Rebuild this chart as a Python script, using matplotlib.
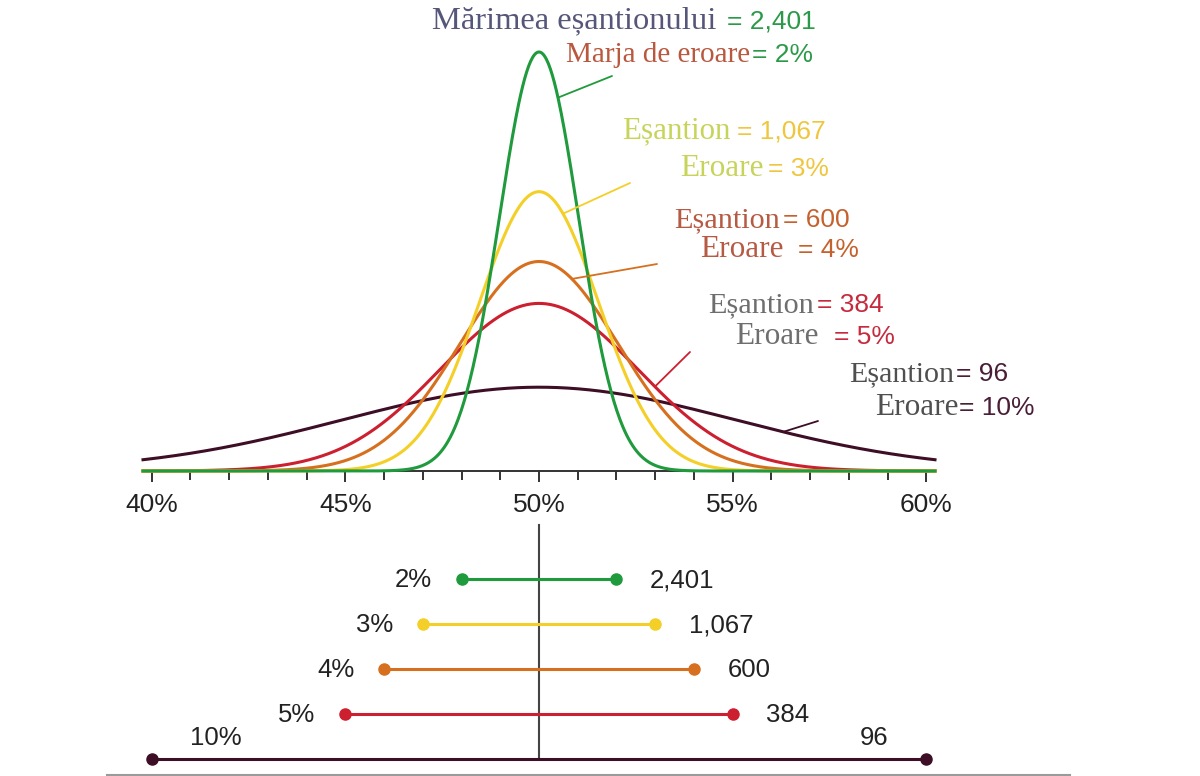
import numpy as np
import matplotlib.pyplot as plt
from matplotlib.lines import Line2D

plt.rcParams['font.family'] = 'Liberation Sans'

# data: margin of error (%) and the matching sample size
margins = [10, 5, 4, 3, 2]
samples = ['96', '384', '600', '1,067', '2,401']
colors = ['#3d0e26', '#cc1f30', '#d6701f', '#f4cf27', '#1f9a3c']
ticks = [40, 45, 50, 55, 60]
tick_labels = ['40%', '45%', '50%', '55%', '60%']
center = 50

W, H = 1200, 776
fig = plt.figure(figsize=(W / 100, H / 100), dpi=100)


def curve(m, xs):
    s = m / 1.96
    return np.exp(-0.5 * ((xs - center) / s) ** 2) / (s * np.sqrt(2 * np.pi))


# top panel: sampling distributions
ax = fig.add_axes([143 / W, 1 - 471 / H, 792 / W, 471 / H])
xs = np.linspace(39.78, 60.22, 800)
for m, c in zip(margins, colors):
    ax.plot(xs, curve(m, xs), color=c, lw=2.2, clip_on=False, zorder=3)
ax.set_xlim(39.78, 60.22)
ax.set_ylim(0, curve(2, center) * 471 / 419)
ax.set_xticks(ticks)
ax.set_xticklabels(tick_labels)
ax.set_xticks(range(40, 61), minor=True)
ax.tick_params(axis='x', which='major', length=8, width=1.4, color='#333333',
               labelsize=19, labelcolor='#222222', pad=8)
ax.tick_params(axis='x', which='minor', length=6.5, width=1.4, color='#333333')
ax.set_yticks([])
for sp in ['left', 'right', 'top']:
    ax.spines[sp].set_visible(False)
ax.spines['bottom'].set_color('#333333')
ax.spines['bottom'].set_linewidth(1.4)

# leader lines from curves to the labels
leaders = [(10, 56.3, 818, 421), (5, 52.99, 690, 352), (4, 50.85, 657, 264),
           (3, 50.62, 630, 183), (2, 50.49, 612, 76)]
for (m, lx, px, py), c in zip(leaders, colors):
    ax.annotate('', xy=(lx, curve(m, lx)), xytext=(px, H - py),
                textcoords='figure pixels',
                arrowprops=dict(arrowstyle='-', color=c, lw=1.3,
                                shrinkA=0, shrinkB=0))


def ftxt(x, y, s, color, size, family):
    fig.text(x / W, 1 - y / H, s, color=color, fontsize=size, family=family,
             ha='left', va='baseline')


serif = 'Liberation Serif'
sans = 'Liberation Sans'
ftxt(432, 28, 'Mărimea eșantionului', '#56567a', 23.4, serif)
ftxt(727, 28, '= 2,401', '#2b9a48', 19, sans)
ftxt(566, 62, 'Marja de eroare', '#b9583f', 21, serif)
ftxt(752, 62, '= 2%', '#2b9a48', 19, sans)
ftxt(622, 138, 'Eșantion', '#c8d35a', 22.3, serif)
ftxt(737, 138, '= 1,067', '#efc63e', 19, sans)
ftxt(680, 176, 'Eroare', '#c8d35a', 22.5, serif)
ftxt(768, 176, '= 3%', '#efc63e', 19, sans)
ftxt(674, 227, 'Eșantion', '#b65a43', 21.8, serif)
ftxt(783, 227, '= 600', '#c4612c', 19, sans)
ftxt(700, 257, 'Eroare', '#b65a43', 22.5, serif)
ftxt(798, 257, '= 4%', '#c4612c', 19, sans)
ftxt(708, 312, 'Eșantion', '#6e6e6e', 21.8, serif)
ftxt(817, 312, '= 384', '#c62a3e', 19, sans)
ftxt(735, 344, 'Eroare', '#6e6e6e', 22.5, serif)
ftxt(834, 344, '= 5%', '#c62a3e', 19, sans)
ftxt(849, 381, 'Eșantion', '#4f4f4f', 21.6, serif)
ftxt(956, 381, '= 96', '#4a1e36', 19, sans)
ftxt(875, 415, 'Eroare', '#4f4f4f', 22.5, serif)
ftxt(959, 415, '= 10%', '#4a1e36', 19, sans)

# bottom panel: confidence intervals
bx = fig.add_axes([143 / W, 0, 792 / W, 256 / H])
bx.set_xlim(39.78, 60.22)
bx.set_ylim(-4 - 17 / 45, (579 - 520) / 45)
bx.axis('off')
bx.plot([center, center], [(579 - 525) / 45, -4], color='#444444', lw=1.5, zorder=1)
for i, (m, n, c) in enumerate(zip(margins, samples, colors)):
    row = -(len(margins) - 1 - i)
    bx.plot([center - m, center + m], [row, row], color=c, lw=2.2,
            marker='o', markersize=8, zorder=2, clip_on=False)
    if m == 10:
        bx.annotate(f'{m}%', xy=(center - m, row), xytext=(46, 15),
                    textcoords='offset points', ha='center', va='center',
                    fontsize=18.5, color='#222222')
        bx.annotate(n, xy=(center + m, row), xytext=(-38, 15),
                    textcoords='offset points', ha='center', va='center',
                    fontsize=18.5, color='#222222')
    else:
        bx.annotate(f'{m}%', xy=(center - m, row), xytext=(-21.5, -1),
                    textcoords='offset points', ha='right', va='center',
                    fontsize=18.5, color='#222222')
        bx.annotate(n, xy=(center + m, row), xytext=(24, -1),
                    textcoords='offset points', ha='left', va='center',
                    fontsize=18.5, color='#222222')

fig.add_artist(Line2D([107 / W, 1070 / W], [1 / H, 1 / H], color='#9a9a9a', lw=1.5))

fig.savefig('out.png', dpi=100)
